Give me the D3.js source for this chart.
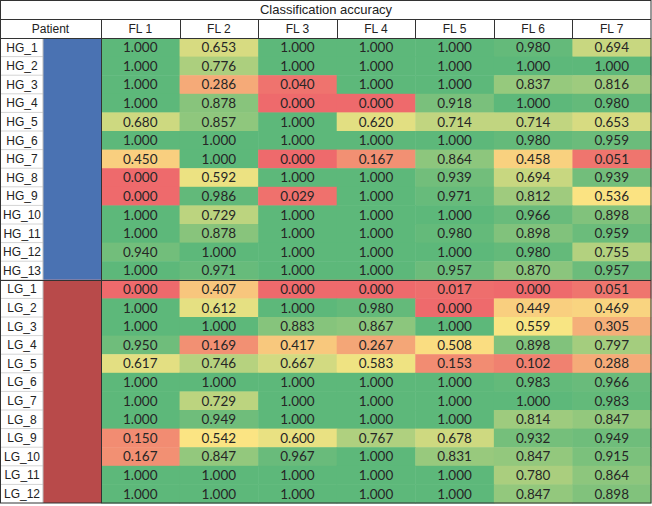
<!DOCTYPE html>
<html>
<head>
<meta charset="utf-8">
<script src="https://cdn.jsdelivr.net/npm/d3@7"></script>
<style>
	body { margin: 0; background: #fff; }
	svg { display: block; }
	.label { font-family: "Liberation Sans", Arial, sans-serif; font-size: 12px; fill: #222; }
	.title { font-size: 13px; }
	.value { font-family: Lato, "Open Sans", sans-serif; font-size: 13.5px; fill: #262626; }
</style>
</head>
<body>
<div id="chart"></div>
<script>
var title = "Classification accuracy";
var columns = ["FL 1", "FL 2", "FL 3", "FL 4", "FL 5", "FL 6", "FL 7"];
var patients = ["HG_1", "HG_2", "HG_3", "HG_4", "HG_5", "HG_6", "HG_7", "HG_8", "HG_9", "HG_10", "HG_11", "HG_12", "HG_13",
	"LG_1", "LG_2", "LG_3", "LG_4", "LG_5", "LG_6", "LG_7", "LG_8", "LG_9", "LG_10", "LG_11", "LG_12"];
var groups = ["HG", "LG"];

var accuracy = [
	[1.000, 0.653, 1.000, 1.000, 1.000, 0.980, 0.694],
	[1.000, 0.776, 1.000, 1.000, 1.000, 1.000, 1.000],
	[1.000, 0.286, 0.040, 1.000, 1.000, 0.837, 0.816],
	[1.000, 0.878, 0.000, 0.000, 0.918, 1.000, 0.980],
	[0.680, 0.857, 1.000, 0.620, 0.714, 0.714, 0.653],
	[1.000, 1.000, 1.000, 1.000, 1.000, 0.980, 0.959],
	[0.450, 1.000, 0.000, 0.167, 0.864, 0.458, 0.051],
	[0.000, 0.592, 1.000, 1.000, 0.939, 0.694, 0.939],
	[0.000, 0.986, 0.029, 1.000, 0.971, 0.812, 0.536],
	[1.000, 0.729, 1.000, 1.000, 1.000, 0.966, 0.898],
	[1.000, 0.878, 1.000, 1.000, 0.980, 0.898, 0.959],
	[0.940, 1.000, 1.000, 1.000, 1.000, 0.980, 0.755],
	[1.000, 0.971, 1.000, 1.000, 0.957, 0.870, 0.957],
	[0.000, 0.407, 0.000, 0.000, 0.017, 0.000, 0.051],
	[1.000, 0.612, 1.000, 0.980, 0.000, 0.449, 0.469],
	[1.000, 1.000, 0.883, 0.867, 1.000, 0.559, 0.305],
	[0.950, 0.169, 0.417, 0.267, 0.508, 0.898, 0.797],
	[0.617, 0.746, 0.667, 0.583, 0.153, 0.102, 0.288],
	[1.000, 1.000, 1.000, 1.000, 1.000, 0.983, 0.966],
	[1.000, 0.729, 1.000, 1.000, 1.000, 1.000, 0.983],
	[1.000, 0.949, 1.000, 1.000, 1.000, 0.814, 0.847],
	[0.150, 0.542, 0.600, 0.767, 0.678, 0.932, 0.949],
	[0.167, 0.847, 0.967, 1.000, 0.831, 0.847, 0.915],
	[1.000, 1.000, 1.000, 1.000, 1.000, 0.780, 0.864],
	[1.000, 1.000, 1.000, 1.000, 1.000, 0.847, 0.898]
];

var groupColors = ["#4a72b2", "#b84a4a"];
var colorStops = [0, 0.55, 1];
var colorRange = ["#ee6a6c", "#fbe683", "#5db87a"];

function drawTable (target) {
	var width = 652;
	var height = 506;
	var titleH = 19;
	var headH = 19;
	var rowH = 18.6;
	var labelW = 43;
	var barX = 101;
	var right = 651;
	var top = titleH + headH;
	var bottom = top + patients.length * rowH;

	var svg = d3.select(target).append("svg")
		.attr("width", width)
		.attr("height", height);

	var x = d3.scaleBand().domain(columns).range([barX, right]);
	var y = d3.scaleBand().domain(patients).range([top, bottom]);
	var color = d3.scaleLinear().domain(colorStops).range(colorRange);

	var cells = [];
	accuracy.forEach(function (row, i) {
		row.forEach(function (v, j) {
			cells.push({ patient: patients[i], column: columns[j], value: v });
		});
	});

	// heat cells
	svg.selectAll(".cell")
		.data(cells)
		.enter().append("rect")
		.attr("class", "cell")
		.attr("x", function (d) { return x(d.column); })
		.attr("y", function (d) { return y(d.patient); })
		.attr("width", x.bandwidth() + 0.5)
		.attr("height", y.bandwidth() + 0.5)
		.attr("fill", function (d) { return color(d.value); });

	svg.selectAll(".value")
		.data(cells)
		.enter().append("text")
		.attr("class", "value")
		.attr("x", function (d) { return x(d.column) + x.bandwidth() / 2; })
		.attr("y", function (d) { return y(d.patient) + y.bandwidth() / 2; })
		.attr("dy", "0.36em")
		.attr("text-anchor", "middle")
		.text(function (d) { return d3.format(".3f")(d.value); });

	// group bars
	groups.forEach(function (g, k) {
		var rows = patients.filter(function (p) { return p.indexOf(g) === 0; });
		var y0 = y(rows[0]);
		var y1 = y(rows[rows.length - 1]) + y.bandwidth();
		svg.append("rect")
			.attr("x", labelW)
			.attr("y", y0)
			.attr("width", barX - labelW)
			.attr("height", y1 - y0)
			.attr("fill", groupColors[k]);
	});

	// patient labels
	svg.selectAll(".rowline")
		.data(patients.slice(1))
		.enter().append("line")
		.attr("x1", 0).attr("x2", labelW)
		.attr("y1", function (d) { return y(d); })
		.attr("y2", function (d) { return y(d); })
		.attr("stroke", "#d4d4d4");

	svg.selectAll(".plabel")
		.data(patients)
		.enter().append("text")
		.attr("class", "label")
		.attr("x", labelW / 2 + 0.5)
		.attr("y", function (d) { return y(d) + y.bandwidth() / 2; })
		.attr("dy", "0.36em")
		.attr("text-anchor", "middle")
		.text(function (d) { return d; });

	// title and header
	svg.append("text")
		.attr("class", "label title")
		.attr("x", width / 2)
		.attr("y", titleH / 2)
		.attr("dy", "0.36em")
		.attr("text-anchor", "middle")
		.text(title);

	svg.append("text")
		.attr("class", "label")
		.attr("x", barX / 2)
		.attr("y", titleH + headH / 2)
		.attr("dy", "0.36em")
		.attr("text-anchor", "middle")
		.text("Patient");

	svg.selectAll(".head")
		.data(columns)
		.enter().append("text")
		.attr("class", "label")
		.attr("x", function (d) { return x(d) + x.bandwidth() / 2; })
		.attr("y", titleH + headH / 2)
		.attr("dy", "0.36em")
		.attr("text-anchor", "middle")
		.text(function (d) { return d; });

	// borders
	var dark = "#333";
	svg.append("line")
		.attr("x1", labelW).attr("x2", labelW)
		.attr("y1", top).attr("y2", bottom)
		.attr("stroke", "#bbb");

	svg.selectAll(".vline")
		.data(columns)
		.enter().append("line")
		.attr("x1", function (d) { return Math.round(x(d)) + 0.5; })
		.attr("x2", function (d) { return Math.round(x(d)) + 0.5; })
		.attr("y1", titleH)
		.attr("y2", function (d, i) { return i === 0 ? bottom : top; })
		.attr("stroke", dark);

	[titleH, top, y("LG_1")].forEach(function (yy) {
		svg.append("line")
			.attr("x1", 0).attr("x2", right)
			.attr("y1", Math.round(yy) + 0.5).attr("y2", Math.round(yy) + 0.5)
			.attr("stroke", dark);
	});

	svg.append("rect")
		.attr("x", 0.5).attr("y", 0.5)
		.attr("width", right - 0.5)
		.attr("height", bottom - 0.5)
		.attr("fill", "none")
		.attr("stroke", dark);
}

drawTable("#chart");
</script>
</body>
</html>
